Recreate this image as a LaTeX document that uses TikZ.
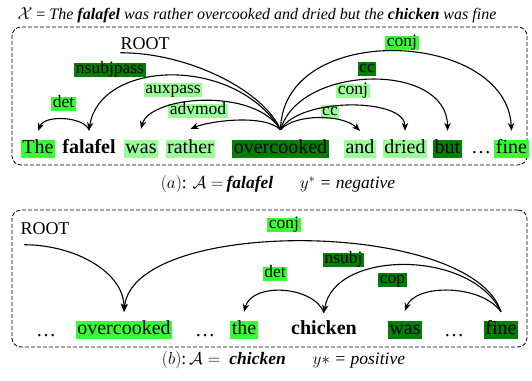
\documentclass[tikz,border=0pt]{standalone}
\usepackage{fontspec}
\setmainfont{Liberation Serif}
\usetikzlibrary{arrows.meta}
\definecolor{gB}{RGB}{51,255,51}
\definecolor{gD}{RGB}{0,128,0}
\definecolor{gL}{RGB}{153,255,153}
\tikzset{
  word/.style={inner xsep=1.5pt, inner ysep=0pt, text height=13.5pt, text depth=4.5pt, font=\fontsize{20}{24}\selectfont},
  lbl/.style={inner xsep=1.5pt, inner ysep=0.5pt, text height=10pt, text depth=3pt, font=\fontsize{17.5}{20}\selectfont},
  rootlbl/.style={inner sep=0pt, font=\fontsize{18}{21}\selectfont},
  arc/.style={line width=1.1pt},
  arr/.style={arc, -{Stealth[length=8pt,width=6.5pt]}},
  frame/.style={draw, dash pattern=on 4pt off 2pt, line width=0.8pt, rounded corners=9pt},
  captxt/.style={inner sep=0pt, font=\fontsize{17.5}{20}\selectfont}
}
\begin{document}
\begin{tikzpicture}[x=1pt,y=-1pt]
\useasboundingbox (0,0) rectangle (532,380);
% title
\node[captxt, font=\fontsize{16}{19}\selectfont] (title) at (257,15) {$\mathcal{X}$ = \textit{The \textbf{falafel} was rather overcooked and dried but the \textbf{chicken} was fine}};
% frames
\node[frame, minimum width=515pt, minimum height=138pt] (boxa) at (269.5,96) {};
\node[frame, minimum width=515pt, minimum height=137pt] (boxb) at (269.5,278.5) {};

% ---------- panel a ----------
\node[rootlbl] (roota) at (145,43.5) {ROOT};
\node[word, fill=gB] (The) at (38,149) {The};
\node[word, font=\fontsize{20}{24}\selectfont\bfseries] (falafel) at (89,149) {falafel};
\node[word, fill=gL] (was) at (141,149) {was};
\node[word, fill=gL] (rather) at (190.5,149) {rather};
\node[word, fill=gD] (over) at (280.5,149) {overcooked};
\node[word, fill=gL] (and) at (360,149) {and};
\node[word, fill=gL] (dried) at (405,149) {dried};
\node[word, fill=gD] (but) at (447.5,149) {but};
\node[word] (dotsa) at (481,149) {\ldots};
\node[word, fill=gB] (finea) at (511.5,149) {fine};

\node[lbl, fill=gB] (ldet) at (63.5,103.5) {det};
\node[lbl, fill=gD] (lnsp) at (110,70) {nsubjpass};
\node[lbl, fill=gL] (laux) at (173,89.5) {auxpass};
\node[lbl, fill=gL] (ladv) at (198,111) {advmod};
\node[lbl, fill=gL] (lcc1) at (330,111.5) {cc};
\node[lbl, fill=gL] (lconj1) at (353,91) {conj};
\node[lbl, fill=gD] (lcc2) at (367,69) {cc};
\node[lbl, fill=gB] (lconj2) at (402,42.5) {conj};

\coordinate (Oa) at ([yshift=10pt]over.north);
\coordinate (tThe) at ([yshift=9pt]The.north);
\coordinate (tfal) at ([yshift=9.5pt]falafel.north);
\coordinate (twas) at ([yshift=11pt]was.north);
\coordinate (trat) at ([yshift=11pt]rather.north);
\coordinate (tand) at ([yshift=9pt]and.north);
\coordinate (tdri) at ([yshift=9pt]dried.north);
\coordinate (tbut) at ([yshift=9pt]but.north);
\coordinate (tfin) at ([yshift=9pt]finea.north);

\draw[arc] (roota.south west) ++(0,3) .. controls +(70,0) and +(-16,-38) .. (Oa);
\draw[arr] (tfal) .. controls +(-3,-13) and +(7,-17) .. (tThe);
\draw[arr] (Oa) .. controls +(-46,-75) and +(11,-70.5) .. (tfal);
\draw[arr] (Oa) .. controls +(-26,-43) and +(9,-33) .. (twas);
\draw[arr] (Oa) .. controls +(-16,-16) and +(20,-8) .. (trat);
\draw[arr] (Oa) .. controls +(14,-16) and +(-18,-17) .. (tand);
\draw[arr] (Oa) .. controls +(19,-33) and +(0,-33) .. (tdri);
\draw[arr] (Oa) .. controls +(19,-66) and +(0,-69) .. (tbut);
\draw[arr] (Oa) .. controls +(2,-110) and +(-5,-101) .. (tfin);

\node[captxt] (capa) at (278,184) {$(a)$: $\mathcal{A}=$\,\textbf{\textit{falafel}}\quad\; \textit{$y^{*}$ = negative}};

% ---------- panel b ----------
\node[rootlbl] (rootb) at (45,228.5) {ROOT};
\node[word] (dotsb1) at (46,332) {\ldots};
\node[word, fill=gB] (overb) at (124,330) {overcooked};
\node[word] (dotsb2) at (205,332) {\ldots};
\node[word, fill=gB] (the) at (244,330) {the};
\node[word, font=\fontsize{20}{24}\selectfont\bfseries] (chicken) at (324,330) {chicken};
\node[word, fill=gD] (wasb) at (405,330) {was};
\node[word] (dotsb3) at (454,332) {\ldots};
\node[word, fill=gD] (fineb) at (501,330) {fine};

\node[lbl, fill=gB] (lconjb) at (284,225) {conj};
\node[lbl, fill=gB] (ldetb) at (275,273.5) {det};
\node[lbl, fill=gD] (lnsubj) at (343.5,260) {nsubj};
\node[lbl, fill=gD] (lcop) at (392.5,280) {cop};

\coordinate (Fb) at ([yshift=9pt]fineb.north);
\coordinate (tover) at ([yshift=9pt]overb.north);
\coordinate (tthe) at ([yshift=9pt]the.north);
\coordinate (tchi) at ([yshift=8pt]chicken.north);
\coordinate (twasb) at ([yshift=10pt]wasb.north);

\draw[arr] (rootb.south west) ++(4,10) .. controls +(50,0) and +(0,-40) .. (tover);
\draw[arr] (Fb) .. controls +(-30,-93) and +(9,-95) .. (tover);
\draw[arr] (tchi) .. controls +(-10,-27) and +(8,-30) .. (tthe);
\draw[arr] (Fb) .. controls +(-30,-63) and +(10,-63) .. (tchi);
\draw[arr] (Fb) .. controls +(-20,-28) and +(10,-27) .. (twasb);

\node[captxt] (capb) at (283.5,360) {$(b)$:\,$\mathcal{A}=$\; \textbf{\textit{chicken}}\quad\; \textit{$y\ast$ = positive}};
\end{tikzpicture}
\end{document}
